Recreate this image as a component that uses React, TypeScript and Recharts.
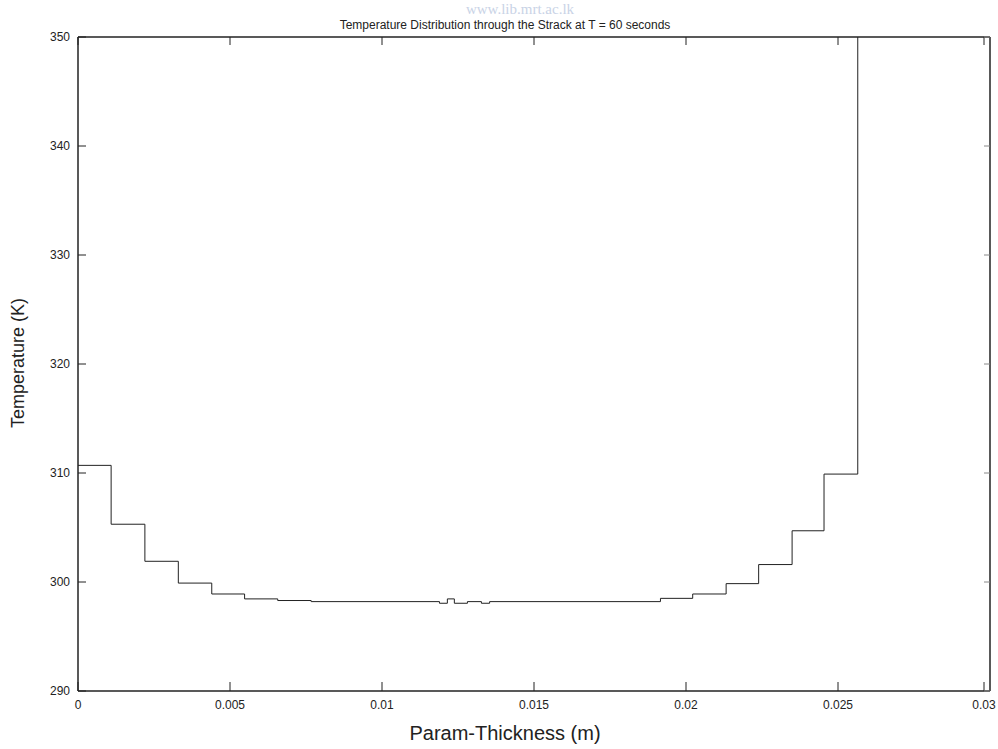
import React from 'react'
import { LineChart, Line, XAxis, YAxis } from 'recharts'

// node positions through the stack (m) and temperature of each cell (K)
const thickness = [
  0, 0.00109, 0.0022, 0.0033, 0.0044, 0.00548, 0.00657, 0.00767,
  0.01189, 0.01215, 0.01238, 0.01281, 0.01327, 0.01354,
  0.01916, 0.02022, 0.02132, 0.02239, 0.02349, 0.02454, 0.02565,
]
const temperature = [
  310.7, 305.3, 301.9, 299.9, 298.9, 298.45, 298.3, 298.2,
  298.05, 298.45, 298.05, 298.2, 298.05, 298.2,
  298.5, 298.9, 299.85, 301.6, 304.7, 309.9, 370,
]
const xTicks = [0, 0.005, 0.01, 0.015, 0.02, 0.025, 0.03]
const yTicks = [290, 300, 310, 320, 330, 340, 350]

const data = thickness.map((x, i) => ({ x, t: temperature[i] }))

const FONT = '"Liberation Sans Narrow", "Liberation Sans", Arial, sans-serif'
const INK = '#222'

function BottomTick({ x, y, payload }: any) {
  return (
    <g>
      <line x1={x} y1={y} x2={x} y2={y - 9} stroke={INK} strokeWidth={1} />
      <text x={x} y={y + 18} textAnchor="middle" fontSize={12} fontFamily={FONT} fill={INK}>
        {String(payload.value)}
      </text>
    </g>
  )
}

function TopTick({ x, y }: any) {
  return <line x1={x} y1={y} x2={x} y2={y + 8} stroke={INK} strokeWidth={1} />
}

function LeftTick({ x, y, payload }: any) {
  return (
    <g>
      <line x1={x} y1={y} x2={x + 8} y2={y} stroke={INK} strokeWidth={1} />
      <text x={x - 8} y={y + 4} textAnchor="end" fontSize={12} fontFamily={FONT} fill={INK}>
        {String(payload.value)}
      </text>
    </g>
  )
}

function RightTick({ x, y }: any) {
  return <line x1={x} y1={y} x2={x - 6} y2={y} stroke="#888" strokeWidth={1} />
}

export default function App() {
  return (
    <div style={{ position: 'absolute', left: 0, top: 0, width: 998, height: 749, background: '#fff' }}>
      <LineChart width={998} height={749} data={data} margin={{ top: 36, right: 7, bottom: 28, left: 0 }}>
        <text x={520} y={14} textAnchor="middle" fontSize={15} fontFamily="serif" fill="#c9d3e6">
          www.lib.mrt.ac.lk
        </text>
        <text x={505} y={29} textAnchor="middle" fontSize={12} fontFamily={FONT} fill={INK}>
          Temperature Distribution through the Strack at T = 60 seconds
        </text>
        <text x={505} y={740} textAnchor="middle" fontSize={20} fontFamily={FONT} fill={INK}>
          Param-Thickness (m)
        </text>
        <text x={24} y={363} transform="rotate(-90 24 363)" textAnchor="middle" fontSize={18} fontFamily={FONT} fill={INK}>
          Temperature (K)
        </text>
        <XAxis
          xAxisId="bottom" dataKey="x" type="number" domain={[0, 0.03]} ticks={xTicks}
          allowDataOverflow height={30} tickSize={0} tickMargin={0} tickLine={false}
          axisLine={{ stroke: INK, strokeWidth: 1.5 }} tick={<BottomTick />}
        />
        <XAxis
          xAxisId="top" dataKey="x" type="number" orientation="top" domain={[0, 0.03]} ticks={xTicks}
          allowDataOverflow height={1} tickSize={0} tickMargin={0} tickLine={false}
          axisLine={{ stroke: INK, strokeWidth: 1.5 }} tick={<TopTick />}
        />
        <YAxis
          yAxisId="left" type="number" domain={[290, 350]} ticks={yTicks} allowDataOverflow
          width={78} tickSize={0} tickMargin={0} tickLine={false}
          axisLine={{ stroke: INK, strokeWidth: 1.5 }} tick={<LeftTick />}
        />
        <YAxis
          yAxisId="right" type="number" orientation="right" domain={[290, 350]} ticks={yTicks} allowDataOverflow
          width={1} tickSize={0} tickMargin={0} tickLine={false}
          axisLine={{ stroke: INK, strokeWidth: 1.5 }} tick={<RightTick />}
        />
        <Line
          xAxisId="bottom" yAxisId="left" type="stepAfter" dataKey="t"
          stroke={INK} strokeWidth={1} dot={false} isAnimationActive={false}
        />
        <Line
          xAxisId="top" yAxisId="right" type="stepAfter" dataKey="t"
          stroke="none" dot={false} isAnimationActive={false}
        />
      </LineChart>
    </div>
  )
}
